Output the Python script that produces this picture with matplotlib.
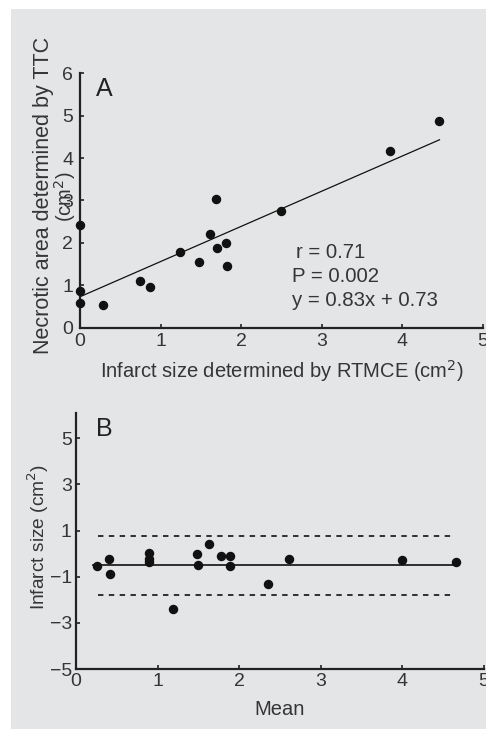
import matplotlib
matplotlib.use("Agg")
import matplotlib.pyplot as plt
from matplotlib.patches import Rectangle
import numpy as np

plt.rcParams['font.family'] = ['Liberation Sans', 'DejaVu Sans']

# Panel A data: infarct size by RTMCE (x) vs necrotic area by TTC (y)
rtmce = [0.0, 0.0, 0.0, 0.29, 0.74, 0.87, 1.24, 1.48, 1.61, 1.69, 1.70, 1.81, 1.83, 2.49, 3.85, 4.46]
ttc   = [2.42, 0.87, 0.59, 0.54, 1.09, 0.96, 1.79, 1.54, 2.21, 3.04, 1.88, 2.00, 1.46, 2.76, 4.17, 4.87]
slope, intercept = 0.83, 0.73
stats_lines = ["r = 0.71", "P = 0.002", "y = 0.83x + 0.73"]

# Panel B data: Bland-Altman
ba_mean = [0.26, 0.41, 0.42, 0.89, 0.90, 0.90, 1.19, 1.48, 1.50, 1.63, 1.78, 1.89, 1.89, 2.35, 2.61, 4.00, 4.66]
ba_diff = [-0.55, -0.22, -0.87, 0.02, -0.22, -0.36, -2.41, -0.02, -0.51, 0.42, -0.12, -0.12, -0.55, -1.32, -0.22, -0.29, -0.37]
bias = -0.51
upper_loa = 0.78
lower_loa = -1.81

xticks = [0, 1, 2, 3, 4, 5]
yticks_a = [0, 1, 2, 3, 4, 5, 6]
yticks_b = [-5, -3, -1, 1, 3, 5]

W, H = 486, 731
fig = plt.figure(figsize=(W / 100, H / 100), dpi=100)
fig.patch.set_facecolor('white')
bg = '#e4e5e7'
fig.patches.append(Rectangle((11 / W, 1 - 729 / H), (W - 11) / W, (729 - 9) / H,
                             transform=fig.transFigure, facecolor=bg, edgecolor='none', zorder=-10))

txt = '#353535'

def style(ax, xpad, ypad):
    ax.set_facecolor('none')
    ax.set_zorder(5)
    for s in ['top', 'right']:
        ax.spines[s].set_visible(False)
    for s in ['left', 'bottom']:
        ax.spines[s].set_linewidth(1.6)
        ax.spines[s].set_color('#222222')
    ax.tick_params(direction='in', length=3, width=1.2, colors='#222222',
                   labelsize=14, labelcolor=txt)
    ax.tick_params(axis='x', pad=xpad)
    ax.tick_params(axis='y', pad=ypad)

# Panel A
axA = fig.add_axes([80 / W, 1 - 327.7 / H, (483 - 80) / W, (327.7 - 73.3) / H])
style(axA, 4, 5)
axA.set_xlim(0, 5)
axA.set_ylim(0, 6)
axA.set_xticks(xticks)
axA.set_yticks(yticks_a)
axA.plot(rtmce, ttc, 'o', color='#111111', markersize=5.8, clip_on=False, zorder=3)
xl = np.array([0, max(rtmce)])
axA.plot(xl, slope * xl + intercept, '-', color='#111111', linewidth=0.9, clip_on=False)
for i, s in enumerate(stats_lines):
    axA.text(2.63 if i else 2.68, 1.78 - i * 0.57, s, fontsize=14.7, color=txt, va='center', ha='left')
axA.text(0.2, 5.64, 'A', fontsize=18, color='#222222', va='center', ha='left')
axA.set_xlabel('Infarct size determined by RTMCE (cm$^2$)', fontsize=14.5, color=txt, labelpad=6)
fig.text(43 / W, 1 - 195 / H, 'Necrotic area determined by TTC', rotation=90,
         fontsize=15.5, color=txt, ha='center', va='center')
fig.text(65 / W, 1 - 197 / H, '(cm$^2$)', rotation=90,
         fontsize=14.5, color=txt, ha='center', va='center')

# Panel B
axB = fig.add_axes([76 / W, 1 - 669 / H, (484 - 76) / W, (669 - 413) / H])
style(axB, 3, 3)
axB.set_xlim(0, 5)
axB.set_ylim(-5, 6.1)
axB.set_xticks(xticks)
axB.set_yticks(yticks_b)
axB.plot(ba_mean, ba_diff, 'o', color='#111111', markersize=5.8, clip_on=False, zorder=3)
axB.plot([0.21, 4.67], [bias, bias], '-', color='#222222', linewidth=1.3)
axB.plot([0.27, 4.65], [upper_loa, upper_loa], '--', color='#222222', linewidth=1.3, dashes=(3, 3))
axB.plot([0.27, 4.65], [lower_loa, lower_loa], '--', color='#222222', linewidth=1.3, dashes=(3, 3))
axB.text(0.25, 5.4, 'B', fontsize=18, color='#222222', va='center', ha='left')
axB.set_xlabel('Mean', fontsize=14.5, color=txt, labelpad=7)
fig.text(38 / W, 1 - 537 / H, 'Infarct size (cm$^2$)', rotation=90,
         fontsize=13.8, color=txt, ha='center', va='center')

fig.savefig('out.png', dpi=100, facecolor='white')
